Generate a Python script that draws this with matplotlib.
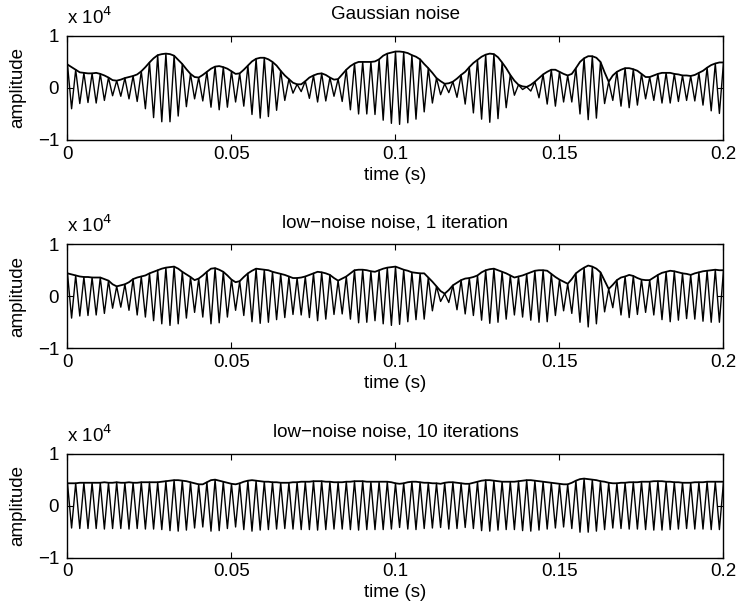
import numpy as np
import matplotlib
matplotlib.use("Agg")
import matplotlib.pyplot as plt

plt.rcParams['font.family'] = ['Liberation Sans', 'DejaVu Sans']

# carrier extrema (units of 1e4), one value every half cycle
# of the 400 Hz tone, i.e. every 1.25 ms from 0 to 0.2 s
half_period = 0.00125

gauss_env = [
    0.45, 0.40, 0.35, 0.30, 0.29, 0.28, 0.28, 0.29, 0.27, 0.24,
    0.20, 0.15, 0.14, 0.16, 0.19, 0.21, 0.23, 0.26, 0.32, 0.40,
    0.49, 0.57, 0.63, 0.65, 0.66, 0.65, 0.62, 0.54, 0.46, 0.36,
    0.27, 0.21, 0.20, 0.25, 0.31, 0.37, 0.41, 0.42, 0.40, 0.37,
    0.32, 0.27, 0.28, 0.35, 0.43, 0.51, 0.56, 0.58, 0.58, 0.55,
    0.50, 0.43, 0.33, 0.24, 0.17, 0.10, 0.07, 0.07, 0.13, 0.20,
    0.24, 0.27, 0.28, 0.25, 0.20, 0.16, 0.17, 0.26, 0.35, 0.42,
    0.47, 0.50, 0.50, 0.50, 0.50, 0.51, 0.55, 0.62, 0.66, 0.68,
    0.70, 0.70, 0.69, 0.67, 0.63, 0.60, 0.55, 0.46, 0.38, 0.29,
    0.19, 0.13, 0.08, 0.09, 0.12, 0.18, 0.25, 0.31, 0.40, 0.48,
    0.54, 0.60, 0.64, 0.66, 0.65, 0.59, 0.49, 0.38, 0.25, 0.14,
    0.06, 0.03, 0.02, 0.06, 0.12, 0.19, 0.26, 0.31, 0.35, 0.35,
    0.31, 0.27, 0.24, 0.27, 0.38, 0.50, 0.57, 0.61, 0.61, 0.58,
    0.50, 0.30, 0.12, 0.24, 0.31, 0.35, 0.38, 0.38, 0.36, 0.33,
    0.27, 0.21, 0.21, 0.24, 0.27, 0.29, 0.29, 0.29, 0.27, 0.26,
    0.24, 0.24, 0.23, 0.25, 0.29, 0.33, 0.39, 0.44, 0.47, 0.49,
    0.49,
]

iter1_env = [
    0.44, 0.42, 0.40, 0.38, 0.37, 0.37, 0.36, 0.36, 0.36, 0.33,
    0.30, 0.23, 0.19, 0.21, 0.23, 0.27, 0.33, 0.36, 0.38, 0.40,
    0.44, 0.47, 0.50, 0.53, 0.55, 0.56, 0.57, 0.53, 0.47, 0.42,
    0.37, 0.31, 0.34, 0.40, 0.47, 0.53, 0.54, 0.51, 0.47, 0.40,
    0.32, 0.27, 0.29, 0.37, 0.44, 0.49, 0.53, 0.52, 0.51, 0.50,
    0.47, 0.45, 0.43, 0.41, 0.38, 0.35, 0.35, 0.36, 0.38, 0.41,
    0.44, 0.47, 0.46, 0.44, 0.41, 0.35, 0.30, 0.34, 0.38, 0.44,
    0.50, 0.51, 0.51, 0.50, 0.48, 0.47, 0.50, 0.53, 0.55, 0.56,
    0.57, 0.54, 0.51, 0.49, 0.46, 0.45, 0.44, 0.44, 0.36, 0.28,
    0.19, 0.10, 0.05, 0.12, 0.21, 0.26, 0.31, 0.34, 0.35, 0.37,
    0.40, 0.46, 0.50, 0.52, 0.53, 0.50, 0.47, 0.44, 0.40, 0.36,
    0.38, 0.40, 0.43, 0.46, 0.49, 0.50, 0.50, 0.49, 0.43, 0.37,
    0.32, 0.28, 0.24, 0.33, 0.44, 0.50, 0.55, 0.59, 0.57, 0.53,
    0.46, 0.30, 0.14, 0.22, 0.31, 0.36, 0.38, 0.41, 0.39, 0.35,
    0.32, 0.31, 0.31, 0.36, 0.41, 0.45, 0.47, 0.49, 0.48, 0.46,
    0.44, 0.43, 0.41, 0.44, 0.46, 0.48, 0.49, 0.50, 0.51, 0.50,
    0.50,
]

iter10_env = [
    0.43, 0.43, 0.43, 0.44, 0.44, 0.44, 0.44, 0.44, 0.44, 0.45,
    0.44, 0.44, 0.45, 0.44, 0.44, 0.45, 0.44, 0.44, 0.45, 0.45,
    0.45, 0.45, 0.45, 0.46, 0.47, 0.48, 0.49, 0.49, 0.48, 0.47,
    0.45, 0.43, 0.41, 0.41, 0.45, 0.49, 0.50, 0.48, 0.46, 0.44,
    0.42, 0.41, 0.43, 0.46, 0.48, 0.49, 0.48, 0.47, 0.46, 0.46,
    0.45, 0.45, 0.44, 0.44, 0.44, 0.45, 0.45, 0.46, 0.46, 0.46,
    0.47, 0.47, 0.47, 0.46, 0.46, 0.45, 0.45, 0.45, 0.46, 0.46,
    0.47, 0.47, 0.47, 0.46, 0.46, 0.46, 0.46, 0.46, 0.46, 0.45,
    0.43, 0.42, 0.43, 0.45, 0.46, 0.46, 0.45, 0.44, 0.44, 0.43,
    0.43, 0.42, 0.44, 0.45, 0.45, 0.44, 0.43, 0.42, 0.42, 0.44,
    0.46, 0.48, 0.49, 0.49, 0.48, 0.47, 0.46, 0.46, 0.46, 0.46,
    0.47, 0.48, 0.49, 0.49, 0.48, 0.47, 0.46, 0.45, 0.44, 0.43,
    0.42, 0.41, 0.41, 0.44, 0.48, 0.51, 0.52, 0.51, 0.50, 0.49,
    0.47, 0.46, 0.44, 0.43, 0.43, 0.44, 0.44, 0.45, 0.45, 0.45,
    0.46, 0.46, 0.46, 0.47, 0.47, 0.47, 0.46, 0.46, 0.45, 0.45,
    0.44, 0.44, 0.44, 0.45, 0.45, 0.45, 0.46, 0.46, 0.46, 0.46,
    0.46,
]

titles = ['Gaussian noise', 'low\u2212noise noise, 1 iteration',
          'low\u2212noise noise, 10 iterations']
xticks = [0, 0.05, 0.1, 0.15, 0.2]
xticklabels = ['0', '0.05', '0.1', '0.15', '0.2']
yticks = [-1, 0, 1]
yticklabels = ['\u22121', '0', '1']

fig = plt.figure(figsize=(7.4, 6.15), dpi=100)
bottoms = [0.7724, 0.4337, 0.0932]
fs = 13.5

for env, title, b in zip([gauss_env, iter1_env, iter10_env], titles, bottoms):
    ax = fig.add_axes([0.0912, b, 0.8865, 0.1692])
    env = np.array(env)
    t = np.arange(len(env)) * half_period
    # peaks on even half cycles, troughs on odd ones
    sign = np.where(np.arange(len(env)) % 2 == 0, 1.0, -1.0)
    ax.plot(t, env * sign, color='black', lw=1.0)
    ax.plot(t, env, color='black', lw=1.3)

    ax.set_xlim(0, 0.2)
    ax.set_ylim(-1, 1)
    ax.set_xticks(xticks)
    ax.set_xticklabels(xticklabels, fontsize=fs)
    ax.set_yticks(yticks)
    ax.set_yticklabels(yticklabels, fontsize=fs)
    ax.tick_params(direction='in', length=4, width=0.8, top=True, right=True, pad=4)
    ax.tick_params(axis='y', pad=6)
    for s in ax.spines.values():
        s.set_linewidth(1.0)
    ax.set_title(title, fontsize=fs, pad=12)
    ax.set_xlabel('time (s)', fontsize=fs, labelpad=3)
    ax.set_ylabel('amplitude', fontsize=fs, labelpad=8)
    ax.text(0, 1.115, 'x 10$^{4}$', transform=ax.transAxes, fontsize=fs,
            ha='left', va='baseline')

fig.savefig('out.png', dpi=100)
